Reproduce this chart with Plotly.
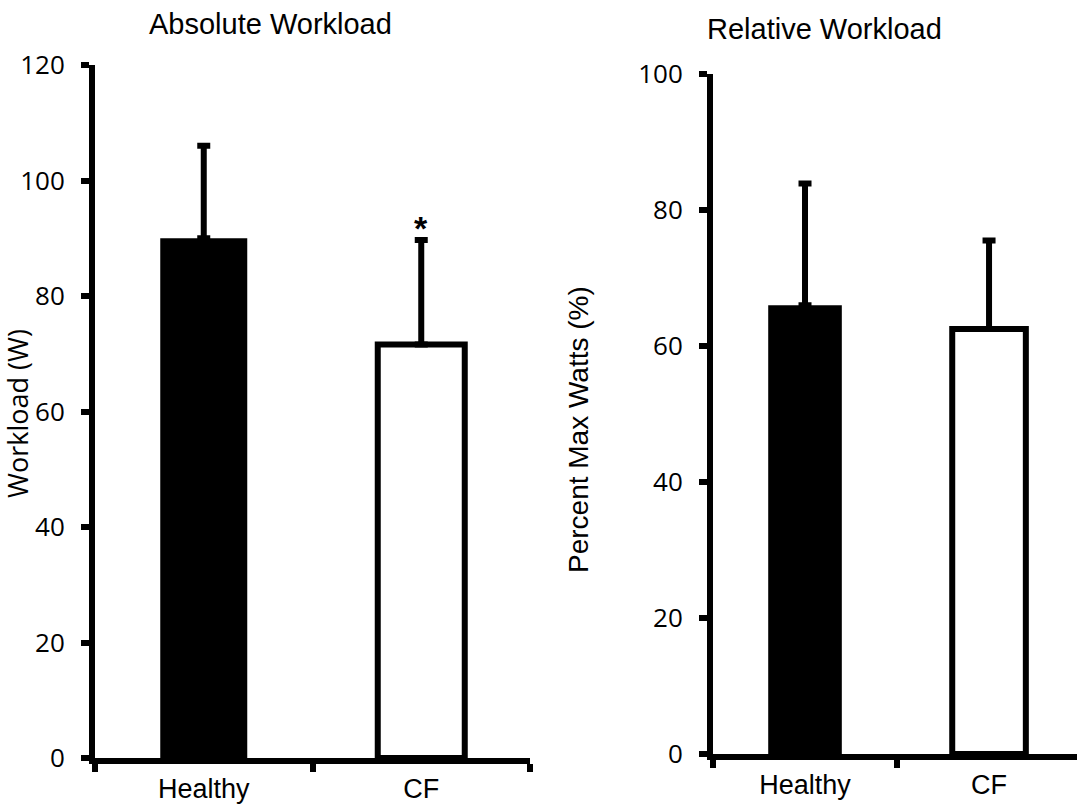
import plotly.graph_objects as go

# Group labels and summary statistics (mean with upward SD)
groups = ["Healthy", "CF"]
abs_mean = [90.0, 71.6]
abs_sd = [16.0, 18.1]
rel_mean = [66.0, 62.5]
rel_sd = [17.9, 13.0]

abs_ticks = [0, 20, 40, 60, 80, 100, 120]
rel_ticks = [0, 20, 40, 60, 80, 100]

W, H = 1077, 812
fill_colors = ["black", "white"]
line_widths = [0, 6]


def px_x(p):
    return p / W


def px_y(p):
    return (H - p) / H


fig = go.Figure()

fig.add_trace(go.Bar(
    x=groups, y=abs_mean, width=0.4,
    marker=dict(color=fill_colors, line=dict(color="black", width=line_widths)),
    error_y=dict(type="data", array=abs_sd, arrayminus=[0, 0], symmetric=False,
                 color="black", thickness=6, width=6.5),
    xaxis="x", yaxis="y", showlegend=False,
))

fig.add_trace(go.Bar(
    x=groups, y=rel_mean, width=0.4,
    marker=dict(color=fill_colors, line=dict(color="black", width=line_widths)),
    error_y=dict(type="data", array=rel_sd, arrayminus=[0, 0], symmetric=False,
                 color="black", thickness=6, width=6.5),
    xaxis="x2", yaxis="y2", showlegend=False,
))

xaxis_common = dict(
    type="category", tickson="boundaries", ticks="outside", ticklen=8, tickwidth=6,
    tickcolor="black", showline=True, linewidth=6, linecolor="black",
    showgrid=False, zeroline=False, automargin=False,
    tickfont=dict(family="Liberation Sans", size=27, color="black"),
    ticklabelstandoff=2,
)
yaxis_common = dict(
    ticks="outside", ticklen=8, tickwidth=6, tickcolor="black",
    showline=True, linewidth=6, linecolor="black",
    showgrid=False, zeroline=False, automargin=False,
    tickfont=dict(family="Open Sans", size=26, color="black"),
    ticklabelstandoff=11,
)

fig.update_layout(
    width=W, height=H,
    margin=dict(l=0, r=0, t=0, b=0, pad=0),
    paper_bgcolor="white", plot_bgcolor="white",
    xaxis=dict(domain=[px_x(95), px_x(530)], range=[-0.5, 1.5], anchor="y", **xaxis_common),
    yaxis=dict(domain=[px_y(758), px_y(65)], range=[0, 120], tickvals=abs_ticks,
               anchor="x", **yaxis_common),
    xaxis2=dict(domain=[px_x(713), 1.0], range=[-0.5, 1.478], anchor="y2", **xaxis_common),
    yaxis2=dict(domain=[px_y(754), px_y(74)], range=[0, 100], tickvals=rel_ticks,
                anchor="x2", **yaxis_common),
    annotations=[
        dict(text="Absolute Workload", x=px_x(270), y=px_y(42), xref="paper", yref="paper",
             xanchor="center", yanchor="bottom", showarrow=False,
             font=dict(family="Liberation Sans", size=29, color="black")),
        dict(text="Relative Workload", x=px_x(824), y=px_y(47), xref="paper", yref="paper",
             xanchor="center", yanchor="bottom", showarrow=False,
             font=dict(family="Liberation Sans", size=29, color="black")),
        dict(text="Workload (W)", x=px_x(17), y=px_y(414),
             xref="paper", yref="paper", xanchor="center", yanchor="middle",
             textangle=-90, showarrow=False,
             font=dict(family="Open Sans", size=27, color="black")),
        dict(text="Percent Max Watts (%)", x=px_x(579), y=px_y(430),
             xref="paper", yref="paper", xanchor="center", yanchor="middle",
             textangle=-90, showarrow=False,
             font=dict(family="Liberation Sans", size=28, color="black")),
        dict(text="<b>*</b>", x="CF", y=abs_mean[1] + abs_sd[1], xref="x", yref="y",
             xanchor="center", yanchor="bottom", yshift=-9, showarrow=False,
             font=dict(family="Liberation Sans", size=34, color="black")),
    ],
)

fig.write_html("out.html")
